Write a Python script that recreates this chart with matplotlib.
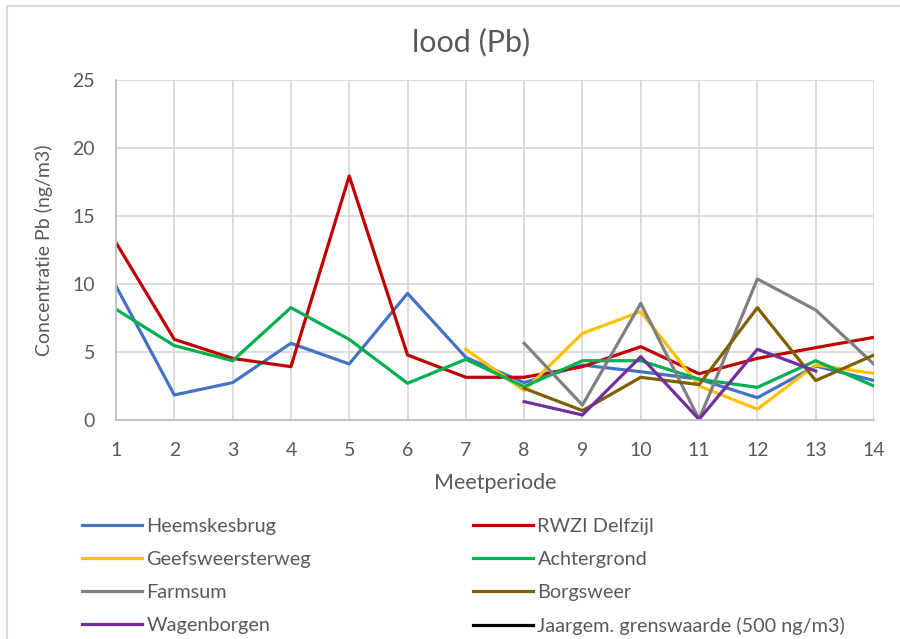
import numpy as np
import matplotlib
matplotlib.use("Agg")
import matplotlib.pyplot as plt
from matplotlib.patches import Rectangle

plt.rcParams['font.family'] = ['Lato', 'DejaVu Sans']

nan = np.nan
periods = list(range(1, 15))

heemskesbrug = [9.85, 1.84, 2.75, 5.64, 4.12, 9.31, 4.6, 2.75, 4.04, 3.55, 3.0, 1.64, 3.97, 2.9]
rwzi_delfzijl = [13.04, 5.93, 4.53, 3.92, 17.94, 4.78, 3.14, 3.14, 3.92, 5.39, 3.4, 4.53, 5.32, 6.08]
geefsweersterweg = [nan, nan, nan, nan, nan, nan, 5.2, 2.16, 6.37, 7.97, 2.5, 0.8, 4.04, 3.43]
achtergrond = [8.14, 5.47, 4.36, 8.26, 5.93, 2.7, 4.46, 2.45, 4.36, 4.36, 3.0, 2.4, 4.36, 2.5]
farmsum = [nan, nan, nan, nan, nan, nan, nan, 5.64, 1.1, 8.58, 0.05, 10.37, 8.09, 4.1]
borgsweer = [nan, nan, nan, nan, nan, nan, nan, 2.33, 0.69, 3.14, 2.6, 8.26, 2.9, 4.78]
wagenborgen = [nan, nan, nan, nan, nan, nan, nan, 1.35, 0.37, 4.66, 0.05, 5.2, 3.6, nan]
grenswaarde = [500] * 14  # ver buiten de y-as, dus niet zichtbaar

series = [
    ("Heemskesbrug", heemskesbrug, "#4472C4"),
    ("RWZI Delfzijl", rwzi_delfzijl, "#C00000"),
    ("Geefsweersterweg", geefsweersterweg, "#FFC000"),
    ("Achtergrond", achtergrond, "#00B050"),
    ("Farmsum", farmsum, "#808080"),
    ("Borgsweer", borgsweer, "#7F6000"),
    ("Wagenborgen", wagenborgen, "#7030A0"),
    ("Jaargem. grenswaarde (500 ng/m3)", grenswaarde, "#000000"),
]

text_col = "#595959"
grid_col = "#D9D9D9"

fig = plt.figure(figsize=(9, 6.39), dpi=100)
ax = fig.add_axes([116 / 900, 1 - 420 / 639, 758 / 900, 340 / 639])

handles = {}
for name, vals, col in series:
    (ln,) = ax.plot(periods, vals, color=col, lw=2.3, label=name)
    handles[name] = ln

ax.set_xlim(1, 14)
ax.set_ylim(0, 25)
ax.set_xticks(periods)
ax.set_yticks(range(0, 26, 5))
ax.grid(True, color=grid_col, lw=1.3)
ax.set_axisbelow(True)
for side in ["top", "right"]:
    ax.spines[side].set_visible(False)
for side in ["left", "bottom"]:
    ax.spines[side].set_color("#BFBFBF")
    ax.spines[side].set_linewidth(1.3)
ax.tick_params(length=0, labelsize=14, labelcolor=text_col)
ax.tick_params(axis="x", pad=16)
ax.tick_params(axis="y", pad=15)

fig.text(471 / 900, 1 - 42 / 639, "lood (Pb)", fontsize=22, color=text_col,
         ha="center", va="center")
ax.set_xlabel("Meetperiode", fontsize=15.5, color=text_col, labelpad=10)
ax.set_ylabel("Concentratie Pb (ng/m3)", fontsize=14, color=text_col, labelpad=14)

legend_kw = dict(frameon=False, fontsize=14.3, handlelength=3.0, handletextpad=0.25,
                 labelspacing=0.8, labelcolor=text_col, loc="upper left",
                 borderaxespad=0)
col1 = ["Heemskesbrug", "Geefsweersterweg", "Farmsum", "Wagenborgen"]
col2 = ["RWZI Delfzijl", "Achtergrond", "Borgsweer", "Jaargem. grenswaarde (500 ng/m3)"]
leg1 = fig.legend([handles[n] for n in col1], col1,
                  bbox_to_anchor=(74 / 900, 1 - 510 / 639), **legend_kw)
leg2 = fig.legend([handles[n] for n in col2], col2,
                  bbox_to_anchor=(465 / 900, 1 - 510 / 639), **legend_kw)

# chart border, cut off at the right and bottom
fig.patches.append(Rectangle((7 / 900, -0.1), 1.2, 1.1 - 6 / 639,
                             transform=fig.transFigure, fill=False,
                             edgecolor=grid_col, lw=1.5))

fig.savefig("out.png", dpi=100, facecolor="white")
